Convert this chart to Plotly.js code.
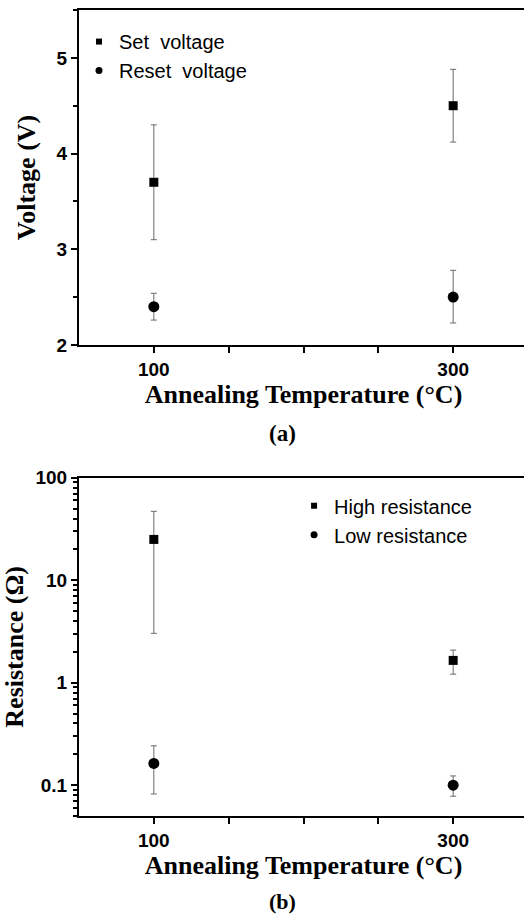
<!DOCTYPE html>
<html><head><meta charset="utf-8">
<script src="https://cdn.plot.ly/plotly-3.0.1.min.js"></script>
<style>html,body{margin:0;padding:0;overflow:hidden;background:#fff;}#chart{width:528px;height:916px;}</style>
</head><body><div id="chart"></div>
<script>
// Panel (a)
const temps = [100, 300];
const setVoltage = [3.7, 4.5];
const setErrPlus = [0.6, 0.38];
const setErrMinus = [0.6, 0.38];
const resetVoltage = [2.4, 2.5];
const resetErrPlus = [0.14, 0.28];
const resetErrMinus = [0.14, 0.27];
// Panel (b)
const highRes = [25, 1.65];
const highUpper = [47, 2.08];
const highLower = [3.03, 1.21];
const lowRes = [0.163, 0.1];
const lowUpper = [0.242, 0.123];
const lowLower = [0.082, 0.078];

const xTickVals = [100, 150, 200, 250, 300];
const xTickText = ['100', '', '', '', '300'];
const yTickVals = [2, 3, 4, 5];

const errStyle = (plus, minus) => ({type:'data', symmetric:false, array:plus, arrayminus:minus, color:'#6a6a6a', thickness:1, width:3});
const highPlus = highUpper.map((u,i)=>u-highRes[i]);
const highMinus = highRes.map((v,i)=>v-highLower[i]);
const lowPlus = lowUpper.map((u,i)=>u-lowRes[i]);
const lowMinus = lowRes.map((v,i)=>v-lowLower[i]);

const traces = [
  {x:temps, y:setVoltage, mode:'markers', type:'scatter', xaxis:'x', yaxis:'y', showlegend:false,
   marker:{symbol:'square', size:9, color:'#000'}, error_y:errStyle(setErrPlus,setErrMinus)},
  {x:temps, y:resetVoltage, mode:'markers', type:'scatter', xaxis:'x', yaxis:'y', showlegend:false,
   marker:{symbol:'circle', size:11, color:'#000'}, error_y:errStyle(resetErrPlus,resetErrMinus)},
  {x:[null], y:[null], mode:'markers', type:'scatter', xaxis:'x', yaxis:'y', name:'Set  voltage', legend:'legend',
   marker:{symbol:'square', size:6, color:'#000'}},
  {x:[null], y:[null], mode:'markers', type:'scatter', xaxis:'x', yaxis:'y', name:'Reset  voltage', legend:'legend',
   marker:{symbol:'circle', size:7, color:'#000'}},
  {x:temps, y:highRes, mode:'markers', type:'scatter', xaxis:'x2', yaxis:'y2', showlegend:false,
   marker:{symbol:'square', size:9, color:'#000'}, error_y:errStyle(highPlus,highMinus)},
  {x:temps, y:lowRes, mode:'markers', type:'scatter', xaxis:'x2', yaxis:'y2', showlegend:false,
   marker:{symbol:'circle', size:11, color:'#000'}, error_y:errStyle(lowPlus,lowMinus)},
  {x:[null], y:[null], mode:'markers', type:'scatter', xaxis:'x2', yaxis:'y2', name:'High resistance', legend:'legend2',
   marker:{symbol:'square', size:6, color:'#000'}},
  {x:[null], y:[null], mode:'markers', type:'scatter', xaxis:'x2', yaxis:'y2', name:'Low resistance', legend:'legend2',
   marker:{symbol:'circle', size:7, color:'#000'}}
];

const tickFont = {family:'Arial, Liberation Sans, sans-serif', size:19, color:'#000', weight:'bold'};
const titleFont = {family:'Times New Roman, Liberation Serif, serif', size:26, color:'#000', weight:'bold'};
const legendFont = {family:'Arial, Liberation Sans, sans-serif', size:20, color:'#000'};
const xCommon = {range:[50,350], tickvals:xTickVals, ticktext:xTickText, ticks:'outside', ticklen:6, tickwidth:2,
  tickcolor:'#000', showline:true, linewidth:2, linecolor:'#000', mirror:true, showgrid:false, zeroline:false,
  tickfont:tickFont, title:{text:'Annealing Temperature (°C)', font:titleFont, standoff:2}};
const logRange = [Math.log10(0.05), 2];

const layout = {
  width:528, height:916, paper_bgcolor:'#fff', plot_bgcolor:'#fff',
  margin:{l:79, r:0, t:10, b:100},
  xaxis:Object.assign({}, xCommon, {domain:[0,1], anchor:'y'}),
  xaxis2:Object.assign({}, xCommon, {domain:[0,1], anchor:'y2'}),
  yaxis:{domain:[0.5844,1], anchor:'x', range:[2,5.5], tickvals:yTickVals, ticks:'outside', ticklen:6, tickwidth:2,
    tickcolor:'#000', showline:true, linewidth:2, linecolor:'#000', mirror:true, showgrid:false, zeroline:false,
    tickfont:tickFont, minor:{dtick:0.5, tick0:2, ticks:'outside', ticklen:4, tickwidth:2, tickcolor:'#000', showgrid:false},
    title:{text:'Voltage (V)', font:titleFont, standoff:14}},
  yaxis2:{domain:[0,0.4197], anchor:'x2', type:'log', range:logRange, tickmode:'linear', tick0:0, dtick:1,
    ticks:'outside', ticklen:6, tickwidth:2, tickcolor:'#000', showline:true, linewidth:2, linecolor:'#000', mirror:true,
    showgrid:false, zeroline:false, tickfont:tickFont, exponentformat:'none',
    minor:{dtick:'D1', ticks:'outside', ticklen:4, tickwidth:2, tickcolor:'#000', showgrid:false},
    title:{text:'Resistance (Ω)', font:titleFont, standoff:6}},
  legend:{x:0.0, y:0.985, xanchor:'left', yanchor:'top', bgcolor:'rgba(0,0,0,0)', font:legendFont, tracegroupgap:0},
  legend2:{x:0.479, y:0.409, xanchor:'left', yanchor:'top', bgcolor:'rgba(0,0,0,0)', font:legendFont, tracegroupgap:0},
  annotations:[
    {text:'(a)', xref:'paper', yref:'paper', x:(282-79)/449, y:(816-433)/806, showarrow:false, xanchor:'center', yanchor:'middle',
     font:{family:'Times New Roman, Liberation Serif, serif', size:23, color:'#000', weight:'bold'}},
    {text:'(b)', xref:'paper', yref:'paper', x:(282-79)/449, y:(816-901)/806, showarrow:false, xanchor:'center', yanchor:'middle',
     font:{family:'Times New Roman, Liberation Serif, serif', size:22, color:'#000', weight:'bold'}}
  ]
};
Plotly.newPlot('chart', traces, layout, {displayModeBar:false, staticPlot:true});
</script></body></html>
